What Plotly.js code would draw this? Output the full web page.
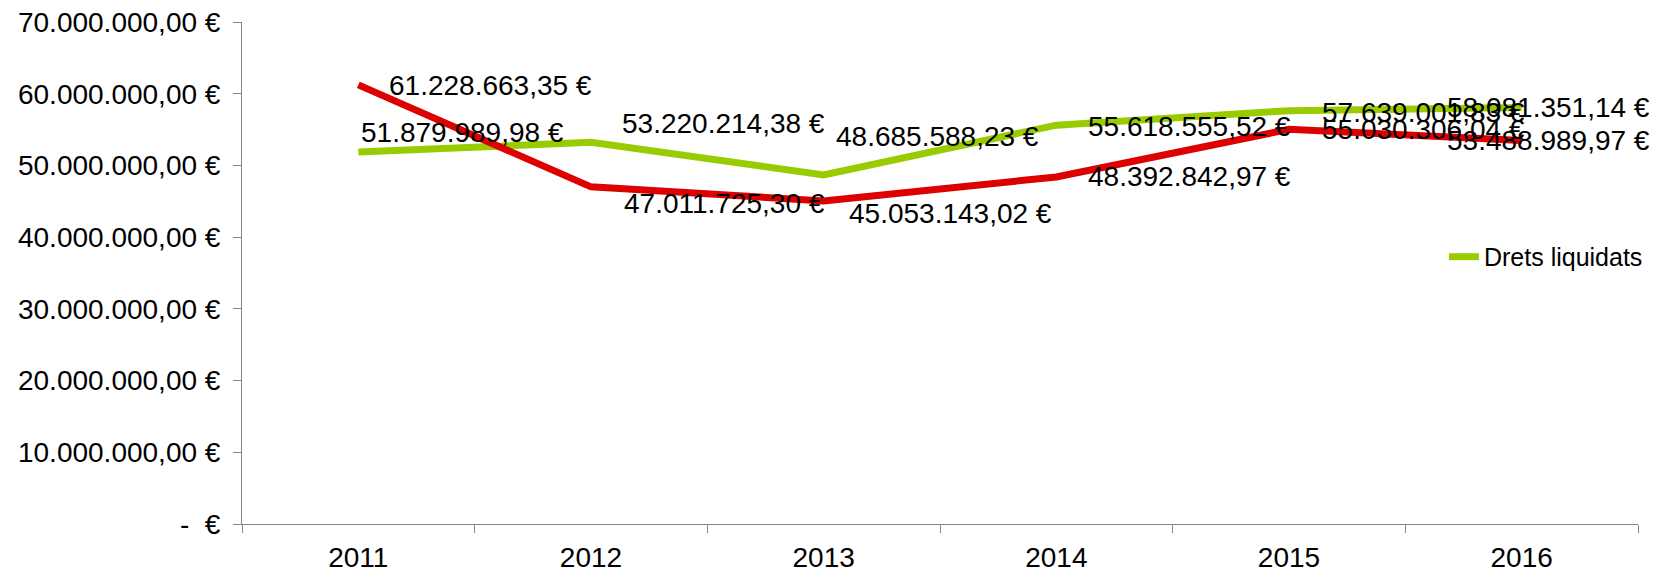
<!DOCTYPE html>
<html>
<head>
<meta charset="utf-8">
<script src="https://cdn.plot.ly/plotly-3.0.1.min.js"></script>
<style>
  html, body { margin: 0; padding: 0; background: #ffffff; }
  #chart { width: 1668px; height: 570px; }
</style>
</head>
<body>
<div id="chart"></div>
<script>
// ---- data ----
const years = ['2011', '2012', '2013', '2014', '2015', '2016'];
const dretsLiquidats = [51879989.98, 53220214.38, 48685588.23, 55618555.52, 57639001.83, 58081351.14];
const obligacionsReconegudes = [61228663.35, 47011725.30, 45053143.02, 48392842.97, 55030306.04, 53488989.97];
const yTickValues = [0, 10000000, 20000000, 30000000, 40000000, 50000000, 60000000, 70000000];
const yTickLabels = ['-\u00a0\u00a0€', '10.000.000,00 €', '20.000.000,00 €', '30.000.000,00 €',
                     '40.000.000,00 €', '50.000.000,00 €', '60.000.000,00 €', '70.000.000,00 €'];

// ---- formatting helper (es/ca number format) ----
function fmtEuro(v) {
  const parts = v.toFixed(2).split('.');
  const intPart = parts[0].replace(/\B(?=(\d{3})+(?!\d))/g, '.');
  return intPart + ',' + parts[1] + ' €';
}

// ---- label placement (pixel offsets, style only) ----
const greenDx = [1, 29, 10, 30, 31, -77];
const greenDy = [19, 19, 38, -1, -2, 0];
const redDx = [29, 31, 23, 30, 31, -77];
const redDy = [-1, -17, -13, 0, 0, 0];

const GREEN = '#99cc00';
const RED = '#dd0000';
const FONT = 'Liberation Sans, Arial, sans-serif';
const FS = 28;

const traces = [
  {
    x: years, y: dretsLiquidats, name: 'Drets liquidats',
    type: 'scatter', mode: 'lines',
    line: { color: GREEN, width: 7 },
    showlegend: true, hoverinfo: 'skip'
  },
  {
    x: years, y: obligacionsReconegudes, name: 'Obligacions reconegudes',
    type: 'scatter', mode: 'lines',
    line: { color: RED, width: 7 },
    showlegend: false, hoverinfo: 'skip'
  }
];

const annotations = [];
for (let i = 0; i < years.length; i++) {
  annotations.push({
    x: i, y: dretsLiquidats[i], xref: 'x', yref: 'y',
    text: fmtEuro(dretsLiquidats[i]), showarrow: false,
    xanchor: 'left', yanchor: 'middle',
    xshift: greenDx[i], yshift: greenDy[i],
    font: { family: FONT, size: FS, color: '#000000' }
  });
  annotations.push({
    x: i, y: obligacionsReconegudes[i], xref: 'x', yref: 'y',
    text: fmtEuro(obligacionsReconegudes[i]), showarrow: false,
    xanchor: 'left', yanchor: 'middle',
    xshift: redDx[i], yshift: redDy[i],
    font: { family: FONT, size: FS, color: '#000000' }
  });
}

const layout = {
  width: 1668, height: 570,
  margin: { l: 242, r: 30, t: 22, b: 46 },
  paper_bgcolor: '#ffffff', plot_bgcolor: '#ffffff',
  font: { family: FONT, size: FS, color: '#000000' },
  showlegend: true,
  legend: {
    x: 0.861, y: 0.532, xanchor: 'left', yanchor: 'middle',
    bgcolor: 'rgba(0,0,0,0)', borderwidth: 0,
    font: { family: FONT, size: 25, color: '#000000' }
  },
  xaxis: {
    type: 'category', range: [-0.5, 5.5],
    showgrid: false, zeroline: false,
    showline: true, linecolor: '#868686', linewidth: 1,
    ticks: 'outside', tickson: 'boundaries', ticklen: 8, tickcolor: '#868686', tickwidth: 1,
    tickfont: { family: FONT, size: FS, color: '#000000' },
    ticklabelstandoff: 8, fixedrange: true
  },
  yaxis: {
    range: [0, 70000000],
    tickvals: yTickValues, ticktext: yTickLabels,
    showgrid: false, zeroline: false,
    showline: true, linecolor: '#868686', linewidth: 1,
    ticks: 'outside', ticklen: 8, tickcolor: '#868686', tickwidth: 1,
    tickfont: { family: FONT, size: FS, color: '#000000' },
    ticklabelstandoff: 7, fixedrange: true
  },
  annotations: annotations
};

Plotly.newPlot('chart', traces, layout, { displayModeBar: false });
</script>
</body>
</html>
